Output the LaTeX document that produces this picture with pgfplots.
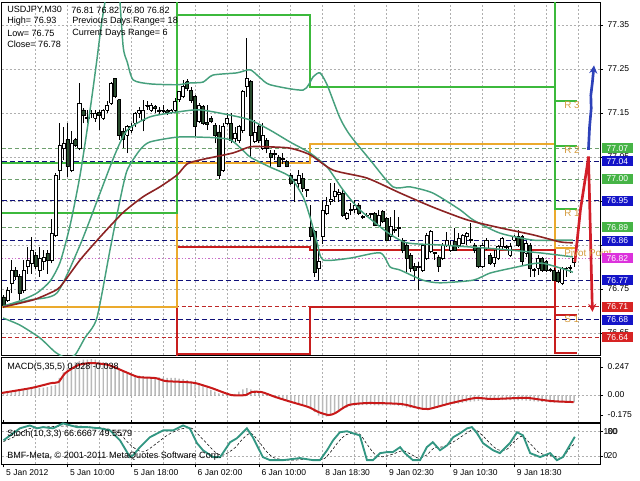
\documentclass[border=0pt]{standalone}
\usepackage{fontspec}
\setmainfont{Liberation Sans}
\usepackage{pgfplots}
\usepackage{pgfplotstable}
\pgfplotsset{compat=1.18}
\usetikzlibrary{arrows.meta}

\definecolor{bbc}{RGB}{70,160,125}
\definecolor{mac}{RGB}{140,35,35}
\definecolor{bearc}{RGB}{40,75,45}
\definecolor{pivg}{RGB}{60,185,60}
\definecolor{pivo}{RGB}{235,170,45}
\definecolor{pivr}{RGB}{200,30,30}
\definecolor{navyl}{RGB}{15,15,120}
\definecolor{lgreen}{RGB}{110,160,110}
\definecolor{lviol}{RGB}{200,110,200}
\definecolor{lred}{RGB}{190,40,40}
\definecolor{boxg}{RGB}{70,180,70}
\definecolor{boxb}{RGB}{20,20,200}
\definecolor{boxm}{RGB}{220,50,220}
\definecolor{boxr}{RGB}{215,35,35}
\definecolor{gridc}{RGB}{175,175,175}
\definecolor{lbl}{RGB}{212,155,62}
\definecolor{stk}{RGB}{50,150,130}
\definecolor{sigc}{RGB}{200,25,25}
\definecolor{histc}{RGB}{185,185,185}
\definecolor{arrb}{RGB}{45,65,185}
\definecolor{arrr}{RGB}{210,30,40}
\newcommand\tf{\fontsize{6.4}{7}\selectfont}
\newcommand\hf{\fontsize{6.8}{7.5}\selectfont}
\newcommand\lf{\fontsize{7.4}{8}\selectfont}

\pgfplotstableread{
i o h l c
0 76.732 76.736 76.706 76.714
1 76.725 76.755 76.721 76.747
2 76.763 76.816 76.740 76.793
3 76.793 76.800 76.770 76.778
4 76.778 76.785 76.725 76.740
5 76.747 76.816 76.740 76.793
6 76.801 76.846 76.785 76.816
7 76.808 76.869 76.785 76.838
8 76.827 76.835 76.795 76.801
9 76.793 76.846 76.778 76.819
10 76.812 76.838 76.793 76.823
11 76.831 76.838 76.785 76.816
12 76.816 76.910 76.808 76.876
13 76.873 77.013 76.869 77.009
14 77.020 77.126 76.998 77.077
15 77.070 77.119 77.043 77.081
16 77.089 77.126 77.005 77.028
17 77.020 77.108 77.015 77.081
18 77.089 77.092 77.073 77.077
19 77.070 77.217 77.065 77.172
20 77.157 77.161 77.126 77.145
21 77.140 77.157 77.126 77.137
22 77.148 77.157 77.138 77.150
23 77.138 77.157 77.130 77.149
24 77.151 77.157 77.111 77.145
25 77.138 77.160 77.135 77.157
26 77.157 77.176 77.149 77.168
27 77.172 77.221 77.168 77.217
28 77.229 77.229 77.183 77.187
29 77.180 77.180 77.089 77.100
30 77.108 77.115 77.070 77.089
31 77.100 77.123 77.058 77.119
32 77.111 77.126 77.104 77.119
33 77.126 77.153 77.119 77.149
34 77.149 77.164 77.138 77.157
35 77.134 77.180 77.108 77.157
36 77.165 77.176 77.157 77.168
37 77.157 77.172 77.153 77.168
38 77.164 77.168 77.150 77.160
39 77.157 77.164 77.145 77.154
40 77.154 77.168 77.149 77.157
41 77.155 77.160 77.146 77.152
42 77.152 77.160 77.148 77.155
43 77.157 77.183 77.153 77.176
44 77.180 77.200 77.175 77.198
45 77.187 77.225 77.183 77.210
46 77.221 77.226 77.200 77.206
47 77.202 77.210 77.172 77.179
48 77.187 77.190 77.096 77.119
49 77.130 77.172 77.126 77.168
50 77.164 77.168 77.122 77.126
51 77.128 77.168 77.111 77.124
52 77.138 77.142 77.126 77.130
53 77.122 77.126 77.081 77.100
54 77.107 77.122 77.001 77.009
55 77.020 77.126 77.016 77.119
56 77.126 77.149 77.122 77.138
57 77.126 77.149 77.081 77.088
58 77.092 77.119 77.085 77.104
59 77.088 77.122 77.081 77.119
60 77.111 77.202 77.104 77.198
61 77.210 77.320 77.187 77.229
62 77.221 77.225 77.050 77.100
63 77.085 77.134 77.081 77.107
64 77.119 77.126 77.081 77.088
65 77.069 77.126 77.066 77.100
66 77.088 77.092 77.058 77.069
67 77.058 77.066 77.028 77.050
68 77.057 77.066 77.043 77.059
69 77.050 77.054 77.028 77.028
70 77.047 77.058 77.035 77.045
71 77.039 77.043 77.026 77.028
72 77.009 77.013 76.986 76.990
73 77.000 77.001 76.948 76.996
74 76.990 77.020 76.975 77.009
75 77.001 77.013 76.971 76.978
76 76.976 76.978 76.960 76.974
77 76.891 76.941 76.861 76.869
78 76.880 76.884 76.778 76.789
79 76.797 76.838 76.770 76.812
80 76.869 76.952 76.853 76.929
81 76.922 76.960 76.918 76.941
82 76.950 76.990 76.941 76.954
83 76.960 76.990 76.948 76.971
84 76.966 76.978 76.948 76.969
85 76.967 76.975 76.914 76.918
86 76.911 76.926 76.907 76.922
87 76.928 76.945 76.918 76.931
88 76.930 76.952 76.922 76.941
89 76.941 76.945 76.918 76.922
90 76.915 76.918 76.910 76.913
91 76.918 76.922 76.914 76.917
92 76.919 76.922 76.911 76.921
93 76.922 76.926 76.892 76.895
94 76.895 76.930 76.892 76.918
95 76.926 76.930 76.899 76.903
96 76.911 76.914 76.858 76.861
97 76.869 76.914 76.861 76.892
98 76.883 76.930 76.877 76.885
99 76.889 76.914 76.869 76.887
100 76.861 76.865 76.831 76.839
101 76.850 76.854 76.789 76.820
102 76.827 76.831 76.789 76.797
103 76.801 76.808 76.770 76.793
104 76.799 76.812 76.748 76.801
105 76.793 76.850 76.789 76.850
106 76.820 76.877 76.816 76.873
107 76.835 76.884 76.831 76.880
108 76.833 76.835 76.816 76.831
109 76.823 76.827 76.789 76.801
110 76.820 76.854 76.816 76.850
111 76.850 76.880 76.846 76.861
112 76.839 76.858 76.835 76.850
113 76.858 76.888 76.839 76.839
114 76.850 76.877 76.842 76.865
115 76.854 76.876 76.852 76.873
116 76.869 76.880 76.850 76.877
117 76.862 76.899 76.854 76.860
118 76.850 76.854 76.831 76.839
119 76.842 76.846 76.797 76.801
120 76.801 76.854 76.797 76.850
121 76.842 76.865 76.839 76.861
122 76.827 76.831 76.805 76.808
123 76.808 76.839 76.801 76.823
124 76.820 76.850 76.816 76.846
125 76.846 76.869 76.839 76.865
126 76.847 76.850 76.839 76.845
127 76.827 76.854 76.823 76.846
128 76.861 76.873 76.858 76.869
129 76.869 76.884 76.846 76.850
130 76.869 76.873 76.805 76.812
131 76.831 76.858 76.823 76.854
132 76.850 76.854 76.778 76.797
133 76.795 76.797 76.778 76.793
134 76.797 76.827 76.782 76.820
135 76.820 76.823 76.789 76.793
136 76.812 76.816 76.789 76.793
137 76.794 76.797 76.789 76.792
138 76.793 76.797 76.767 76.770
139 76.789 76.793 76.763 76.767
140 76.763 76.801 76.759 76.797
141 76.796 76.801 76.778 76.798
142 76.797 76.805 76.786 76.799
143 76.810 76.820 76.800 76.820
}\candles

\pgfplotstableread{
i v
0 0.026
1 0.030
2 0.030
3 0.035
4 0.040
5 0.045
6 0.050
7 0.055
8 0.060
9 0.062
10 0.065
11 0.070
12 0.080
13 0.090
14 0.150
15 0.200
16 0.240
17 0.270
18 0.290
19 0.300
20 0.310
21 0.310
22 0.315
23 0.310
24 0.300
25 0.290
26 0.280
27 0.260
28 0.250
29 0.230
30 0.210
31 0.190
32 0.180
33 0.175
34 0.170
35 0.165
36 0.160
37 0.160
38 0.155
39 0.155
40 0.150
41 0.150
42 0.150
43 0.150
44 0.145
45 0.140
46 0.130
47 0.120
48 0.110
49 0.090
50 0.080
51 0.060
52 0.045
53 0.030
54 0.015
55 0.010
56 0.000
57 -0.005
58 0.010
59 0.030
60 0.050
61 0.060
62 0.050
63 0.040
64 0.030
65 0.010
66 0.000
67 -0.010
68 -0.020
69 -0.030
70 -0.040
71 -0.050
72 -0.060
73 -0.070
74 -0.080
75 -0.085
76 -0.090
77 -0.110
78 -0.150
79 -0.180
80 -0.200
81 -0.190
82 -0.170
83 -0.150
84 -0.130
85 -0.120
86 -0.110
87 -0.100
88 -0.090
89 -0.090
90 -0.088
91 -0.088
92 -0.088
93 -0.090
94 -0.090
95 -0.090
96 -0.090
97 -0.090
98 -0.092
99 -0.095
100 -0.100
101 -0.110
102 -0.112
103 -0.115
104 -0.115
105 -0.115
106 -0.112
107 -0.110
108 -0.105
109 -0.100
110 -0.095
111 -0.085
112 -0.080
113 -0.078
114 -0.075
115 -0.070
116 -0.062
117 -0.058
118 -0.055
119 -0.052
120 -0.050
121 -0.046
122 -0.045
123 -0.045
124 -0.044
125 -0.044
126 -0.045
127 -0.045
128 -0.045
129 -0.046
130 -0.048
131 -0.050
132 -0.052
133 -0.055
134 -0.058
135 -0.060
136 -0.062
137 -0.064
138 -0.066
139 -0.066
140 -0.066
141 -0.065
142 -0.065
143 -0.064
}\hist

\pgfplotsset{mtstyle/.style={
  scale only axis, width=448.875pt, xmin=-0.5, xmax=149.5,
  axis line style={black, line width=0.6pt},
  tick label style={font=\tf, black},
  /pgf/number format/assume math mode=true,
  xtick={8,16,...,144}, xticklabels={}, xtick style={draw=none},
  xmajorgrids,
  grid style={gridc, dash pattern=on 1.5pt off 1.5pt, line width=0.45pt},
  ytick pos=right, yticklabel pos=right,
  ytick style={black, line width=0.45pt},
  tick align=outside, major tick length=2.25pt,
  clip mode=individual,
}}

\begin{document}
\begin{tikzpicture}
\useasboundingbox (0,0) rectangle (480pt,360pt);

% ================= MAIN PRICE PANEL =================
\begin{axis}[mtstyle, at={(1.125pt,93.75pt)}, anchor=south west,
  height=264.75pt, ymin=76.600, ymax=77.402,
  ytick={76.65,76.75,76.85,76.95,77.05,77.15,77.25,77.35},
  yticklabels={76.65,76.75,,,77.05,77.15,77.25,77.35},
  ymajorgrids]

% level lines
\addplot[lgreen, line width=0.6pt, dash pattern=on 3pt off 2pt] coordinates {(-0.5,77.07)(149.5,77.07)};
\addplot[lgreen, line width=0.6pt, dash pattern=on 3pt off 2pt] coordinates {(-0.5,77.00)(149.5,77.00)};
\addplot[lgreen, line width=0.6pt, dash pattern=on 3pt off 2pt] coordinates {(-0.5,76.89)(149.5,76.89)};
\addplot[navyl, line width=0.8pt, dash pattern=on 4pt off 2pt] coordinates {(-0.5,77.04)(149.5,77.04)};
\addplot[navyl, line width=0.8pt, dash pattern=on 4pt off 2pt] coordinates {(-0.5,76.95)(149.5,76.95)};
\addplot[navyl, line width=0.8pt, dash pattern=on 4pt off 2pt] coordinates {(-0.5,76.86)(149.5,76.86)};
\addplot[navyl, line width=0.8pt, dash pattern=on 4pt off 2pt] coordinates {(-0.5,76.77)(149.5,76.77)};
\addplot[navyl, line width=0.8pt, dash pattern=on 4pt off 2pt] coordinates {(-0.5,76.68)(149.5,76.68)};
\addplot[lviol, line width=0.6pt, dash pattern=on 1pt off 1.5pt] coordinates {(-0.5,76.82)(149.5,76.82)};
\addplot[lred, line width=0.6pt, dash pattern=on 3pt off 2pt] coordinates {(-0.5,76.71)(149.5,76.71)};
\addplot[lred, line width=0.6pt, dash pattern=on 3pt off 2pt] coordinates {(-0.5,76.64)(149.5,76.64)};

% pivot step lines
\addplot[pivr, line width=1.5pt, const plot] coordinates {(-0.5,76.45)(43.5,76.603)(76.8,76.709)(138.2,76.605)(143.7,76.605)};
\addplot[pivr, line width=1.5pt, const plot] coordinates {(-0.5,76.45)(43.5,76.845)(76.8,76.839)(138.2,76.691)(143.7,76.691)};
\addplot[pivo, line width=1.5pt, const plot] coordinates {(-0.5,76.708)(43.5,77.036)(76.8,77.080)(138.2,76.843)(143.7,76.843)};
\addplot[pivg, line width=1.5pt, const plot] coordinates {(-0.5,77.55)(138.2,77.177)(143.7,77.177)};
\addplot[pivg, line width=1.5pt, const plot] coordinates {(-0.5,77.037)(43.5,77.55)(138.2,77.075)(143.7,77.075)};
\addplot[pivg, line width=1.5pt, const plot] coordinates {(-0.5,76.923)(43.5,77.373)(76.8,77.210)(138.2,76.932)(143.7,76.932)};

% candles
\pgfplotsinvokeforeach{0,...,143}{%
  \pgfplotstablegetelem{#1}{o}\of\candles \let\cO\pgfplotsretval
  \pgfplotstablegetelem{#1}{h}\of\candles \let\cH\pgfplotsretval
  \pgfplotstablegetelem{#1}{l}\of\candles \let\cL\pgfplotsretval
  \pgfplotstablegetelem{#1}{c}\of\candles \let\cC\pgfplotsretval
  \pgfmathsetmacro\xa{#1-0.38}%
  \pgfmathsetmacro\xb{#1+0.38}%
  \ifdim\cC pt<\cO pt \def\bc{bearc}\else\def\bc{white}\fi
  \edef\tmp{%
    \noexpand\addplot[black, line width=0.6pt, forget plot] coordinates {(#1,\cL) (#1,\cH)};
    \noexpand\addplot[draw=black, fill=\bc, line width=0.45pt, forget plot] coordinates {(\xa,\cO) (\xb,\cO) (\xb,\cC) (\xa,\cC) (\xa,\cO)};
  }\tmp
}

% Bollinger bands
\addplot[bbc, line width=1.1pt, smooth, tension=0.4] coordinates {
(-0.1,76.711)(4.1,76.723)(8.4,76.741)(11.7,76.768)(14.2,76.811)(16.7,76.895)(19.2,77.009)(21.7,77.157)(23.4,77.270)(24.7,77.361)(26.7,77.46)(28.7,77.45)(30.0,77.30)(31.0,77.266)(32.5,77.225)(36.7,77.216)(43.5,77.214)(46.7,77.218)(50,77.22)(52.5,77.236)(58.5,77.241)(61.8,77.248)(64.3,77.230)(66.8,77.214)(75.1,77.202)(77.6,77.232)(79.3,77.241)(81.1,77.214)(84.3,77.139)(86.8,77.100)(91.9,77.043)(97.6,76.982)(101.9,76.982)(107.6,76.968)(114.4,76.930)(117.7,76.907)(124.4,76.877)(132.7,76.861)(139.5,76.861)(142.7,76.861)};
\addplot[bbc, line width=1.1pt, smooth, tension=0.4] coordinates {
(-0.1,76.711)(6.6,76.725)(13.4,76.741)(19.2,76.850)(24.2,76.968)(27.9,77.055)(31.0,77.111)(36.7,77.141)(43.5,77.152)(49.2,77.157)(56.8,77.145)(61.8,77.134)(66.8,77.111)(71.8,77.084)(76.8,77.059)(81.1,77.027)(85.1,76.975)(89.3,76.930)(96,76.880)(101,76.855)(109.4,76.850)(117.7,76.845)(126.2,76.839)(134.5,76.832)(142.7,76.823)};
\addplot[bbc, line width=1.1pt, smooth, tension=0.4] coordinates {
(-0.1,76.684)(4.1,76.668)(9.1,76.639)(12.9,76.607)(15.4,76.595)(17.9,76.600)(20.4,76.639)(23.4,76.684)(26.7,76.839)(29.2,76.952)(31.0,77.020)(34.2,77.066)(36.7,77.084)(43.5,77.095)(49.2,77.095)(56.8,77.089)(61.8,77.050)(66.8,77.027)(71.8,77.005)(75.1,76.959)(76.8,76.914)(78.6,76.855)(80.1,76.816)(86.8,76.820)(94.4,76.832)(96.9,76.800)(99.4,76.793)(105.1,76.770)(109.4,76.764)(117.7,76.770)(121.9,76.786)(127.7,76.798)(134.5,76.809)(141.2,76.793)(142.7,76.788)};
% moving average
\addplot[mac, line width=1.2pt, smooth, tension=0.4] coordinates {
(-0.1,76.709)(7.4,76.725)(11.7,76.741)(14.2,76.755)(19.2,76.816)(24.2,76.868)(29.9,76.923)(34.9,76.959)(39.2,76.982)(43.5,77.009)(46,77.034)(49.2,77.043)(57.5,77.059)(61.8,77.073)(66,77.073)(71.8,77.070)(76.8,77.055)(82.6,77.020)(91.1,77.002)(99.4,76.968)(107.6,76.936)(116.2,76.907)(124.4,76.889)(132.7,76.873)(139.5,76.857)(142.7,76.855)};

% forecast arrows
\addplot[arrr, line width=2pt, -{Stealth[length=6pt,width=6pt]}] coordinates {(143.2,76.811)(144.6,76.93)(146.3,77.03)(146.6,77.051)(146.9,76.95)(147.3,76.80)(147.6,76.698)};
\addplot[arrb, line width=2pt, -{Stealth[length=6pt,width=6pt]}] coordinates {(146.6,77.066)(146.9,77.12)(147.3,77.16)(147.2,77.19)(147.6,77.22)(148.0,77.258)};

% pivot labels
\tikzset{plab/.style={lbl, font=\lf, anchor=north west, inner sep=0.6pt}}
\node[plab] at (axis cs:140.3,77.177) {R 3};
\node[plab] at (axis cs:140.3,77.075) {R 2};
\node[plab] at (axis cs:140.3,76.932) {R 1};
\node[plab] at (axis cs:140.3,76.843) {Pivot Point};
\node[plab] at (axis cs:140.3,76.691) {S 1};

% price boxes
\tikzset{pbox/.style={text=white, font=\tf, inner sep=0pt, minimum width=23.25pt, minimum height=7.5pt, anchor=west, xshift=1.2pt}}
\node[pbox, fill=boxg] at (axis cs:149.5,77.07) {77.07};
\node[pbox, fill=boxb] at (axis cs:149.5,77.04) {77.04};
\node[pbox, fill=boxg] at (axis cs:149.5,77.00) {77.00};
\node[pbox, fill=boxb] at (axis cs:149.5,76.95) {76.95};
\node[pbox, fill=boxg] at (axis cs:149.5,76.89) {76.89};
\node[pbox, fill=boxb] at (axis cs:149.5,76.86) {76.86};
\node[pbox, fill=boxm] at (axis cs:149.5,76.82) {76.82};
\node[pbox, fill=boxb] at (axis cs:149.5,76.77) {76.77};
\node[pbox, fill=boxr] at (axis cs:149.5,76.71) {76.71};
\node[pbox, fill=boxb] at (axis cs:149.5,76.68) {76.68};
\node[pbox, fill=boxr] at (axis cs:149.5,76.64) {76.64};
\end{axis}

% ================= MACD PANEL =================
\begin{axis}[mtstyle, at={(1.125pt,43.5pt)}, anchor=south west,
  height=48.75pt, ymin=-0.237, ymax=0.334,
  ytick={-0.175,0,0.247}, yticklabels={-0.175,0.00,0.247}]
\addplot[gridc, dash pattern=on 1.5pt off 1.5pt, line width=0.45pt] coordinates {(-0.5,0)(149.5,0)};
\addplot[ybar, bar width=1.1pt, fill=histc, draw=none] table[x=i, y=v] {\hist};
\addplot[sigc, line width=1.5pt, smooth, tension=0.4] coordinates {
(-0.5,0.018)(7,0.062)(12,0.105)(13.8,0.114)(15.5,0.193)(18.8,0.264)(22.1,0.281)(26.3,0.264)(30.6,0.202)(33.8,0.158)(38.1,0.149)(40.6,0.123)(45.6,0.114)(48.1,0.105)(52.1,0.062)(57.1,0)(60.7,0)(62.2,0.026)(64.7,0.026)(68.2,-0.018)(72.2,-0.062)(76.4,-0.105)(78.9,-0.149)(81.5,-0.176)(83.2,-0.158)(86.5,-0.088)(91.5,-0.070)(99.7,-0.079)(104,-0.114)(106.5,-0.123)(112.3,-0.070)(118.3,-0.026)(122.3,-0.035)(129.1,-0.026)(131.6,-0.026)(137.3,-0.053)(142.9,-0.062)};
\end{axis}

% ================= STOCHASTIC PANEL =================
\begin{axis}[mtstyle, at={(1.125pt,11.775pt)}, anchor=south west,
  height=31pt, ymin=0, ymax=100,
  ytick={20,80}, yticklabels={20,80},
  extra x ticks={0,16,...,128},
  extra x tick labels={5 Jan 2012,5 Jan 10:00,5 Jan 18:00,6 Jan 02:00,6 Jan 10:00,8 Jan 18:30,9 Jan 02:30,9 Jan 10:30,9 Jan 18:30},
  extra x tick style={grid=none, xtick style={draw=black, line width=0.45pt},
    xticklabel style={anchor=west, yshift=-4.2pt, xshift=-1.5pt}}]
\addplot[gridc, dash pattern=on 1.5pt off 1.5pt, line width=0.45pt] coordinates {(-0.5,20)(149.5,20)};
\addplot[gridc, dash pattern=on 1.5pt off 1.5pt, line width=0.45pt] coordinates {(-0.5,80)(149.5,80)};
\addplot[black, line width=0.4pt, dash pattern=on 2pt off 1.5pt, smooth] coordinates {
(0,55)(3,68)(6,85)(10,90)(14,92)(18,93)(22,90)(26,86)(29,75)(32,45)(35,30)(38,48)(41,70)(44,84)(47,88)(49,70)(51,50)(53,30)(55,22)(58,40)(60,62)(62,75)(64,55)(66,30)(68,15)(72,10)(76,12)(80,12)(82,30)(84,55)(86,72)(89,75)(91,50)(93,25)(95,18)(98,26)(100,33)(102,25)(104,15)(106,22)(108,40)(110,42)(112,50)(114,62)(116,75)(118,85)(120,70)(122,50)(124,35)(126,35)(128,55)(130,68)(132,50)(134,30)(136,22)(138,20)(140,15)(142,40)(143.2,49.6)};
\addplot[stk, line width=1.4pt] coordinates {
(0,58)(2.4,75)(4.1,87)(6.6,94)(8.4,87)(9.9,90)(12.4,87)(14.9,99)(18.4,90)(20.9,90)(24.2,87)(26.7,82)(29.2,58)(31.7,17.5)(32.5,22)(34.2,41.5)(36.7,65.5)(40,82)(42.5,82)(45,94)(46.7,87)(48.5,51)(50,34)(52.5,17.5)(54.3,17.5)(56.8,53.5)(58.5,63)(61,87)(62.5,65.5)(65,17.5)(66.8,10)(70,10)(74.3,15)(77.6,10)(79.3,10)(81.1,34)(82.6,58)(84.3,77.5)(86.1,80)(87.6,75)(89.3,70)(91.1,10)(92.6,10)(94.4,27)(96.1,29.5)(97.6,29.5)(99.4,41.5)(100.6,27)(102.6,10)(104.4,10)(106.1,41.5)(107.6,53.5)(109.4,34)(111.2,46)(112.7,65.5)(114.4,75)(116.2,87)(117.4,90)(118.7,75)(120.2,51)(122.7,34)(124.4,27)(126.9,51)(128.7,77.5)(130.2,70)(132,27)(134.5,17.5)(137,27)(138.7,10)(140.2,17.5)(143.2,66.7)};
\node[font=\tf, anchor=west, inner sep=0pt] at (axis cs:149.5,80) {\hspace{2.6pt}100};
\node[font=\tf, anchor=west, inner sep=0pt] at (axis cs:149.5,20) {\hspace{2.6pt}0};
\end{axis}

% ================= TEXTS =================
\tikzset{hdr/.style={font=\hf, anchor=west, inner sep=0pt, black}}
\node[hdr] at (5.25pt,352.5pt) {USDJPY,M30};
\node[hdr] at (53.25pt,352.5pt) {76.81 76.82 76.80 76.82};
\node[hdr] at (5.25pt,344.25pt) {High= 76.93};
\node[hdr] at (54pt,344.25pt) {Previous Days Range= 18};
\node[hdr] at (5.25pt,335.25pt) {Low= 76.75};
\node[hdr] at (54pt,335.25pt) {Current Days Range= 6};
\node[hdr] at (5.25pt,327pt) {Close= 76.78};
\node[hdr] at (5.25pt,84.75pt) {MACD(5,35,5) 0.028 -0.038};
\node[hdr] at (5.25pt,34.5pt) {Stoch(10,3,3) 66.6667 49.5579};
\node[hdr] at (5.25pt,18pt) {BMF-Meta, © 2001-2011 MetaQuotes Software Corp.};
\end{tikzpicture}
\end{document}
